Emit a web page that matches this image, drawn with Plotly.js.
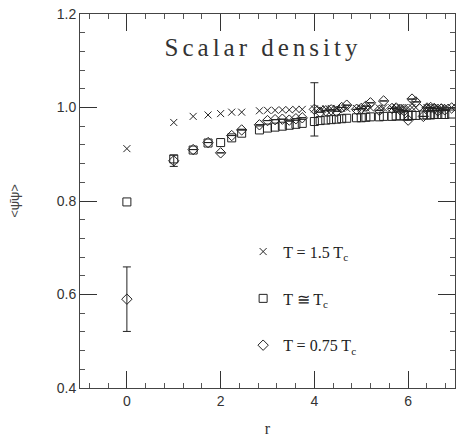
<!DOCTYPE html>
<html>
<head>
<meta charset="utf-8">
<script src="https://cdn.plot.ly/plotly-3.0.1.min.js"></script>
<style>html,body{margin:0;padding:0;background:#fff;}</style>
</head>
<body>
<div id="chart" style="width:456px;height:441px;"></div>
<script>
// lattice distances r
const rVals = [0, 1, 1.414, 1.732, 2, 2.236, 2.449, 2.828, 3, 3.162, 3.317, 3.464, 3.606, 3.742,
  4, 4.123, 4.243, 4.359, 4.472, 4.583, 4.690, 4.899, 5, 5.099, 5.196, 5.385, 5.477, 5.657,
  5.745, 5.831, 5.916, 6, 6.083, 6.164, 6.325, 6.403, 6.481, 6.557, 6.633, 6.708, 6.782, 6.928];

// T = 1.5 Tc (crosses)
const hotVals = [0.912, 0.968, 0.981, 0.984, 0.987, 0.990, 0.990, 0.993, 0.994, 0.994, 0.995, 0.995, 0.996, 0.996,
  0.997, 0.997, 0.997, 0.998, 0.998, 0.998, 0.998, 0.998, 0.999, 0.999, 0.999, 0.999, 0.999, 0.999,
  1.000, 1.000, 1.000, 1.000, 1.000, 1.000, 1.000, 1.000, 1.000, 1.000, 1.000, 1.000, 1.000, 1.000];

// T ≅ Tc (squares)
const critVals = [0.798, 0.890, 0.909, 0.924, 0.925, 0.935, 0.945, 0.952, 0.956, 0.958, 0.960, 0.962, 0.964, 0.966,
  0.970, 0.972, 0.973, 0.974, 0.975, 0.976, 0.977, 0.978, 0.978, 0.979, 0.980, 0.980, 0.981, 0.981,
  0.982, 0.982, 0.982, 0.983, 0.983, 0.983, 0.984, 0.984, 0.984, 0.985, 0.985, 0.985, 0.985, 0.986];

// T = 0.75 Tc (diamonds)
const coldVals = [0.590, 0.886, 0.910, 0.925, 0.903, 0.940, 0.952, 0.963, 0.972, 0.974, 0.975, 0.973, 0.976, 0.978,
  0.996, 0.990, 0.993, 0.995, 0.992, 1.000, 1.005, 0.996, 0.998, 1.003, 1.010, 0.994, 1.014, 0.998,
  0.999, 0.995, 0.993, 0.973, 1.018, 1.012, 0.981, 0.999, 1.000, 0.998, 0.993, 0.997, 0.995, 0.999];
const coldErr = [0.069, 0.012, 0, 0, 0, 0, 0, 0, 0, 0, 0, 0, 0, 0,
  0.057, 0, 0, 0, 0, 0, 0, 0, 0, 0, 0, 0, 0, 0,
  0, 0, 0, 0, 0, 0, 0, 0, 0, 0, 0, 0, 0, 0];

const seriesNames = ['T = 1.5 T<sub>c</sub>', 'T ≅ T<sub>c</sub>', 'T = 0.75 T<sub>c</sub>'];
const xTicks = [0, 2, 4, 6];
const yTicks = [0.4, 0.6, 0.8, 1.0, 1.2];
const xMinorTicks = [-0.8, -0.4, 0.4, 0.8, 1.2, 1.6, 2.4, 2.8, 3.2, 3.6, 4.4, 4.8, 5.2, 5.6, 6.4, 6.8];
const yMinorTicks = [0.44, 0.48, 0.52, 0.56, 0.64, 0.68, 0.72, 0.76, 0.84, 0.88, 0.92, 0.96, 1.04, 1.08, 1.12, 1.16];

const ink = '#222';
const traces = [
  {x: rVals, y: hotVals, type: 'scatter', mode: 'markers', name: seriesNames[0], legendgroup: 'a',
   marker: {symbol: 'x-thin-open', size: 7, color: ink, line: {color: ink, width: 1}}},
  {x: rVals, y: critVals, type: 'scatter', mode: 'markers', name: seriesNames[1], legendgroup: 'b',
   marker: {symbol: 'square-open', size: 8, color: ink, line: {color: ink, width: 1}}},
  {x: rVals, y: coldVals, type: 'scatter', mode: 'markers', name: seriesNames[2], legendgroup: 'c',
   error_y: {type: 'data', array: coldErr, visible: true, color: ink, thickness: 1, width: 4},
   marker: {symbol: 'diamond-open', size: 8, color: ink, line: {color: ink, width: 1}}}
];

const axisCommon = {
  showgrid: false, zeroline: false, showline: true, linecolor: '#444', linewidth: 1,
  mirror: 'allticks', ticks: 'inside', ticklen: 17, tickcolor: '#333', tickwidth: 1.2,
  tickfont: {family: 'Liberation Sans, Arial, sans-serif', size: 14, color: '#333'}
};

const layout = {
  width: 456, height: 441,
  margin: {l: 80, r: 1, t: 14, b: 53},
  paper_bgcolor: '#fff', plot_bgcolor: '#fff',
  showlegend: true,
  legend: {x: 0.435, y: 0.41, xanchor: 'left', yanchor: 'top', bgcolor: 'rgba(0,0,0,0)',
           traceorder: 'grouped', tracegroupgap: 23, itemwidth: 30,
           font: {family: 'Liberation Serif, Times New Roman, serif', size: 16, color: '#222'}},
  title: {text: 'Scalar density', xref: 'paper', yref: 'paper', x: 0.488, y: 0.91,
          xanchor: 'center', yanchor: 'middle',
          font: {family: 'Liberation Serif, Times New Roman, serif', size: 25, color: '#333'}},
  xaxis: Object.assign({}, axisCommon, {
    range: [-1, 7], tickmode: 'array', tickvals: xTicks, ticktext: xTicks.map(String),
    minor: {tickvals: xMinorTicks, ticks: 'inside', ticklen: 5, tickcolor: '#555', tickwidth: 1},
    title: {text: 'r', font: {family: 'Liberation Serif, serif', size: 16, color: '#333'}, standoff: 15}
  }),
  yaxis: Object.assign({}, axisCommon, {
    range: [0.4, 1.2], tickmode: 'array', tickvals: yTicks, ticktext: yTicks.map(v => v.toFixed(1)),
    minor: {tickvals: yMinorTicks, ticks: 'inside', ticklen: 5, tickcolor: '#555', tickwidth: 1},
    title: {text: '&lt;ψ̄ψ&gt;', font: {family: 'Liberation Sans, sans-serif', size: 13, color: '#444'}, standoff: 34}
  })
};

Plotly.newPlot('chart', traces, layout, {displayModeBar: false}).then(function () {
  const t = document.querySelector('.gtitle');
  if (t) { t.style.letterSpacing = '4px'; }
});
</script>
</body>
</html>
